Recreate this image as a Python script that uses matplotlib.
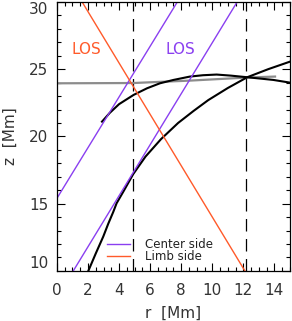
import matplotlib
matplotlib.use('Agg')
import matplotlib.pyplot as plt
from matplotlib.ticker import MultipleLocator

# radial distance r [Mm] and height z [Mm]
# lower black curve
r_low = [2.02, 2.5, 2.98, 3.3, 3.63, 3.84, 4.3, 4.91, 5.7, 6.7, 7.8, 8.8, 9.74, 11.0, 12.25, 13.6, 15.0]
z_low = [10.0, 11.3, 12.55, 13.5, 14.4, 15.03, 15.95, 17.2, 18.5, 19.8, 21.0, 21.9, 22.7, 23.6, 24.4, 25.0, 25.56]
# upper black curve
r_up = [2.9, 3.4, 4.0, 4.94, 5.8, 6.63, 7.5, 8.56, 9.4, 10.28, 11.2, 12.25, 13.1, 13.93, 15.0]
z_up = [21.1, 21.75, 22.4, 23.09, 23.58, 23.95, 24.2, 24.45, 24.55, 24.6, 24.52, 24.4, 24.3, 24.2, 24.0]
# gray reference curve
r_gray = [0.0, 4.9, 6.5, 8.56, 10.5, 12.25, 14.04]
z_gray = [23.95, 23.97, 24.05, 24.15, 24.27, 24.38, 24.45]

# lines of sight (end points)
r_los_center1 = [0.0, 7.75]
z_los_center1 = [15.4, 30.0]
r_los_center2 = [1.05, 11.6]
z_los_center2 = [10.0, 30.0]
r_los_limb = [1.62, 12.1]
z_los_limb = [30.0, 10.0]

# dashed vertical markers
r_marks = [4.9, 12.2]

purple = '#8a3ff0'
orange = '#ff5a2a'

fig = plt.figure(figsize=(2.92, 3.21), dpi=100)
ax = fig.add_axes([0.195, 0.156, 0.798, 0.838])

for rm in r_marks:
    ax.axvline(rm, color='black', lw=0.9, ls=(0, (10, 6)))

ax.plot(r_gray, z_gray, color='#8c8c8c', lw=1.6)
ax.plot(r_low, z_low, color='black', lw=1.5)
ax.plot(r_up, z_up, color='black', lw=1.5)

ax.plot(r_los_center1, z_los_center1, color=purple, lw=1.0)
ax.plot(r_los_center2, z_los_center2, color=purple, lw=1.0)
ax.plot(r_los_limb, z_los_limb, color=orange, lw=1.0)

ax.text(1.9, 26.5, 'LOS', color=orange, fontsize=11, ha='center', va='center')
ax.text(7.95, 26.45, 'LOS', color=purple, fontsize=11, ha='center', va='center')

# legend drawn by hand, IDL style
ax.plot([3.2, 4.7], [12.0, 12.0], color=purple, lw=1.0)
ax.plot([3.2, 4.7], [11.1, 11.1], color=orange, lw=1.0)
ax.text(5.65, 12.0, 'Center side', fontsize=8.5, color='#222222', va='center')
ax.text(5.65, 11.1, 'Limb side', fontsize=8.5, color='#222222', va='center')

ax.set_xlim(0, 15)
ax.set_ylim(10, 30)
ax.xaxis.set_major_locator(MultipleLocator(2))
ax.xaxis.set_minor_locator(MultipleLocator(0.5))
ax.yaxis.set_major_locator(MultipleLocator(5))
ax.yaxis.set_minor_locator(MultipleLocator(1))
ax.tick_params(which='both', direction='in', top=True, right=True, width=0.8,
               labelsize=11, labelcolor='#333333')
ax.tick_params(which='major', length=6)
ax.tick_params(axis='x', which='major', pad=9)
ax.tick_params(axis='y', which='major', pad=6)
ax.tick_params(which='minor', length=3)
for s in ax.spines.values():
    s.set_linewidth(0.9)

ax.set_xlabel('r  [Mm]', fontsize=11, color='#333333', labelpad=5)
ax.set_ylabel('z  [Mm]', fontsize=11, color='#333333', labelpad=8)

# end labels sit inside the axis range, as in the original
fig.canvas.draw()
ylabels = ax.get_yticklabels()
for lab in ylabels:
    if lab.get_text() == '10':
        lab.set_verticalalignment('bottom')
    elif lab.get_text() == '30':
        lab.set_verticalalignment('top')

fig.savefig('out.png', dpi=100)
